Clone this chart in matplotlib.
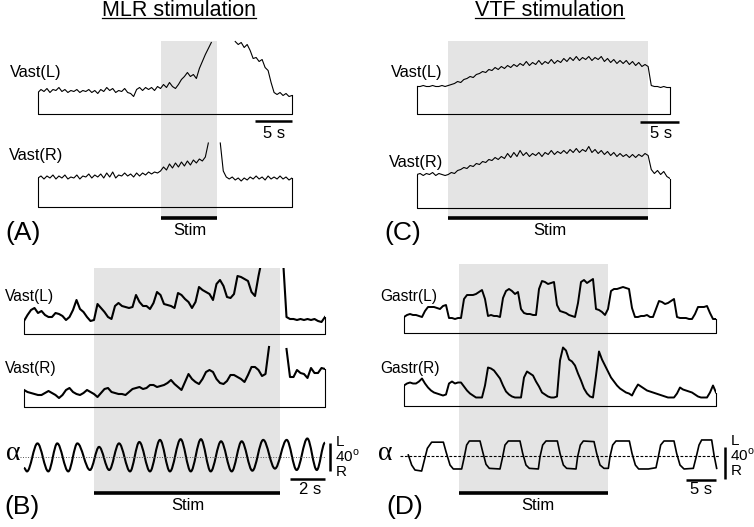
import numpy as np
import matplotlib
matplotlib.use('Agg')
import matplotlib.pyplot as plt
from matplotlib.path import Path
from matplotlib.patches import PathPatch
from matplotlib.lines import Line2D

plt.rcParams['font.family'] = ['Liberation Sans', 'DejaVu Sans']
plt.rcParams['mathtext.fontset'] = 'custom'
plt.rcParams['mathtext.rm'] = 'Liberation Sans'

nan = np.nan

### data ###
# EMG envelopes in a.u., sampled at a fixed step; nan = saturated / off-scale

# (A) MLR stimulation, one sample every 0.4 s
a_dt = 0.4
a_stim = (16.5, 24.0)
a_vast_l = [22, 25, 23, 26, 22, 25, 24, 27, 23, 25,
            22, 24, 23, 25, 22, 24, 23, 25, 22, 24,
            21, 25, 23, 27, 24, 26, 22, 24, 23, 26,
            22, 21, 18, 25, 27, 24, 27, 25, 27, 24,
            28, 26, 30, 27, 32, 28, 26, 30, 35, 38,
            42, 38, 40, 36, 46, 53, 60, 66, 72,
            nan, nan, nan, nan, nan, nan, nan,
            73, 70, 72, 67, 70, 64, 56, 57, 53, 55,
            47, 44, 32, 22, 20, 22, 19, 21, 18, 19]
a_vast_r = [29, 31, 28, 31, 29, 32, 28, 31, 29, 32,
            28, 30, 29, 32, 28, 31, 30, 33, 29, 32,
            30, 33, 29, 34, 30, 35, 29, 32, 31, 34,
            31, 33, 30, 34, 31, 34, 32, 35, 33, 35,
            34, 36, 40, 37, 43, 39, 44, 40, 45, 41,
            46, 42, 47, 44, 48, 46, 50, 64,
            nan, nan, nan,
            64, 36, 30, 28, 30, 27, 29, 26, 29,
            27, 30, 28, 31, 28, 30, 27, 31, 28, 30,
            28, 31, 28, 30, 27, 29]

# (C) VTF stimulation, one sample every 0.4 s
c_dt = 0.4
c_stim = (4.0, 29.6)
c_vast_l = [28, 28, 29, 28, 28, 29, 28, 28, 29, 28,
            29, 30, 31, 33, 32, 35, 36, 38, 37, 40,
            41, 43, 42, 45, 44, 47, 45, 48, 46, 49,
            47, 50, 48, 51, 49, 53, 49, 52, 50, 54,
            50, 53, 51, 55, 51, 54, 52, 56, 53, 57,
            54, 58, 54, 57, 55, 58, 54, 57, 55, 58,
            53, 56, 52, 55, 51, 54, 51, 54, 50, 53,
            49, 52, 48, 50, 48, 29, 28, 28, 27, 28,
            27, 27]
c_vast_r = [33, 34, 32, 34, 33, 35, 32, 34, 33, 32,
            33, 35, 34, 37, 38, 40, 39, 42, 41, 44,
            43, 46, 45, 48, 47, 50, 48, 51, 49, 54,
            50, 55, 51, 57, 52, 55, 51, 54, 52, 55,
            51, 55, 53, 57, 53, 56, 54, 57, 54, 58,
            55, 59, 55, 58, 56, 61, 55, 58, 54, 57,
            53, 56, 52, 55, 51, 54, 51, 53, 50, 53,
            50, 53, 51, 54, 52, 38, 34, 37, 33, 36,
            31, 29]

# (B) MLR stimulation, fast sweep, one sample every 0.2 s
b_dt = 0.2
b_stim = (4.0, 14.6)
b_vast_l = [13, 19, 24, 26, 21, 23, 19, 17, 17, 21,
            20, 18, 14, 17, 24, 34, 25, 22, 17, 13,
            14, 30, 26, 22, 17, 15, 28, 31, 28, 27,
            26, 27, 39, 32, 28, 28, 25, 31, 42, 39,
            30, 29, 28, 26, 41, 39, 35, 32, 26, 32,
            47, 44, 42, 40, 34, 50, 54, 48, 37, 36,
            40, 58, 57, 55, 53, 42, 38, 58, 75,
            nan, nan, nan, nan, nan,
            75, 17, 15, 15, 14, 15, 14, 15, 14, 15, 13, 12, 17]
b_vast_r = [17, 15, 14, 13, 12, 12, 14, 16, 14, 12,
            9, 12, 17, 19, 15, 13, 12, 14, 17, 15,
            13, 10, 14, 18, 19, 15, 14, 13, 13, 12,
            15, 18, 19, 20, 18, 19, 22, 22, 20, 21,
            22, 24, 27, 23, 20, 17, 25, 33, 28, 25,
            23, 28, 35, 37, 35, 28, 24, 23, 26, 32,
            32, 30, 28, 25, 32, 40, 40, 37, 31, 33, 60,
            nan, nan, nan, nan,
            58, 30, 30, 37, 34, 33, 29, 39, 34, 34, 39, 38]
# hip angle alpha (deg): turning points of the oscillation
alpha_b_t = [0.00, 0.17, 0.77, 1.39, 1.90, 2.53, 3.05, 3.77, 4.29, 4.87,
             5.43, 6.06, 6.59, 7.20, 7.77, 8.34, 8.95, 9.53, 10.11, 10.67,
             11.26, 11.87, 12.44, 13.05, 13.67, 14.34, 15.01, 15.58, 16.19, 16.73,
             17.20]
alpha_b_deg = [-16, -21, 19, -21, 19, -21, 19, -19, 14, -19,
               19, -21, 21, -21, 24, -21, 25, -21, 25, -21,
               22, -21, 22, -20, 24, -17, 24, -19, 26, -19,
               20]

# (D) VTF stimulation, one sample every 0.5 s
d_dt = 0.5
d_stim = (9.2, 34.0)
d_gastr_l = [16, 18, 19, 18, 18, 17, 16, 22, 26, 26,
             26, 25, 24, 27, 28, 15, 15, 14, 15, 15,
             34, 38, 38, 38, 39, 41, 43, 34, 17, 18,
             17, 17, 16, 35, 42, 44, 42, 39, 41, 24,
             20, 19, 19, 18, 18, 44, 52, 51, 49, 50,
             51, 28, 22, 21, 20, 18, 17, 16, 30, 51,
             53, 50, 52, 54, 24, 23, 21, 18, 24, 42,
             44, 44, 45, 46, 45, 44, 25, 16, 16, 17,
             17, 18, 16, 16, 24, 32, 31, 29, 30, 32,
             34, 16, 15, 15, 15, 14, 14, 19, 26, 26,
             26, 27, 20, 14, 14]
d_gastr_r = [20, 22, 23, 22, 22, 24, 27, 22, 18, 15,
             13, 12, 11, 10, 11, 22, 24, 22, 23, 23,
             19, 15, 12, 10, 8, 8, 8, 20, 38, 37,
             35, 31, 27, 20, 14, 11, 9, 8, 8, 8,
             28, 34, 32, 30, 24, 19, 13, 11, 9, 8,
             8, 9, 45, 58, 55, 46, 44, 40, 32, 25,
             17, 12, 9, 8, 30, 54, 46, 40, 34, 28,
             24, 20, 17, 15, 13, 12, 10, 16, 21, 19,
             17, 15, 14, 13, 12, 11, 10, 9, 8, 8,
             8, 12, 18, 16, 15, 14, 13, 11, 9, 8,
             8, 8, 13, 20, 13]
alpha_d_t = [0.72, 1.28, 1.83, 2.94,
             3.33, 3.89, 4.61, 6.56, 7.00, 7.67, 8.22, 9.61,
             10.00, 10.44, 10.89, 12.67, 13.11, 13.67, 14.22, 16.00,
             16.39, 16.83, 17.39, 19.33, 19.78, 20.33, 20.89, 22.39,
             22.67, 23.11, 23.67, 25.56, 26.00, 26.56, 27.11, 28.67,
             28.94, 29.39, 29.89, 31.67, 32.11, 32.67, 33.33, 34.06,
             34.33, 34.78, 35.33, 37.56, 38.00, 38.56, 39.11, 40.72, 42.00,
             42.39, 42.78, 43.33, 45.00, 45.44, 46.00, 46.67, 48.22,
             48.78, 49.17, 49.61, 51.28, 51.67, 52.11]
alpha_d_deg = [0.9, -11.8, -18.1, -19.4,
               -7.6, 9.3, 17.1, 17.1, 5.1, -11.8, -16.8, -16.8,
               -3.3, 13.5, 18.6, 18.6, 5.1, -10.9, -16.0, -16.8,
               -3.3, 13.5, 18.6, 18.6, 3.0, -11.8, -16.0, -16.8,
               -1.2, 13.5, 18.6, 18.6, 3.0, -11.8, -16.0, -16.8,
               -1.2, 13.5, 18.6, 17.8, 3.0, -11.8, -16.0, -16.0,
               -1.2, 13.5, 18.6, 18.6, 3.0, -11.8, -16.8, -16.8, -15.2,
               -1.2, 13.5, 18.6, 18.6, 3.0, -11.8, -16.8, -16.0,
               0.9, 13.5, 19.9, 19.9, 0.9, -16.0]


### drawing ###
W, H = 754, 527
fig = plt.figure(figsize=(W / 100, H / 100), dpi=100)
SHADE = '#e4e4e4'


def axes_px(x0, x1, ytop, ybot):
    # axes placed by pixel box (y measured from the top)
    ax = fig.add_axes([x0 / W, 1 - ybot / H, (x1 - x0) / W, (ybot - ytop) / H])
    ax.set_axis_off()
    return ax


def text_px(x, y, s, size=12, ha='left', va='center', **kw):
    return fig.text(x / W, 1 - y / H, s, size=size, ha=ha, va=va, **kw)


def panel(x0, x1, t_end, ytop, ybar, stim):
    ax = axes_px(x0, x1, ytop, ybar)
    ax.set_xlim(0, t_end)
    ax.set_ylim(0, 1)
    ax.axvspan(stim[0], stim[1], color=SHADE, lw=0)
    ax.plot(stim, [0, 0], color='k', lw=2.6, solid_capstyle='butt', clip_on=False)
    return ax


def trace(x0, x1, base, top, dt, vals, lw):
    v = np.array(vals, dtype=float)
    t = np.arange(len(v)) * dt
    ax = axes_px(x0, x1, base - top, base + 3)
    ax.set_xlim(0, t[-1])
    ax.set_ylim(-3, top)
    ax.plot(t, v, color='k', lw=lw, solid_joinstyle='round')
    ax.plot([0, 0, t[-1], t[-1]], [v[0], 0, 0, v[-1]], color='k', lw=0.8,
            clip_on=False)
    return ax, t[-1]


def smooth_path(t, v, k=0.35):
    verts = [(t[0], v[0])]
    codes = [Path.MOVETO]
    for i in range(1, len(t)):
        step = t[i] - t[i - 1]
        verts += [(t[i - 1] + k * step, v[i - 1]), (t[i] - k * step, v[i]), (t[i], v[i])]
        codes += [Path.CURVE4] * 3
    return Path(verts, codes)


# --- (A) ---
t_a = (len(a_vast_l) - 1) * a_dt
panel(38, 292, t_a, 41, 218.3, a_stim)
ax, _ = trace(38, 292, 114.5, 75, a_dt, a_vast_l, 0.8)
ax.plot([t_a - 5, t_a], [-6.5, -6.5], color='k', lw=1.8, solid_capstyle='butt', clip_on=False)
trace(38, 292, 207, 68, a_dt, a_vast_r, 0.8)

# --- (C) ---
t_c = (len(c_vast_l) - 1) * c_dt
panel(417, 670, t_c, 41, 218.3, c_stim)
ax, _ = trace(417, 670, 114.5, 70, c_dt, c_vast_l, 0.8)
ax.plot([28.5, 33.5], [-7.5, -7.5], color='k', lw=1.8, solid_capstyle='butt', clip_on=False)
trace(417, 670, 207.5, 70, c_dt, c_vast_r, 0.8)

# --- (B) ---
t_b = (len(b_vast_l) - 1) * b_dt
panel(24, 325, t_b, 267.7, 493, b_stim)
trace(24, 325, 334, 66, b_dt, b_vast_l, 1.5)
trace(24, 325, 407, 62, b_dt, b_vast_r, 1.5)
ax = axes_px(24, 325, 456.7 - 22.4, 456.7 + 22.4)
ax.set_xlim(0, t_b)
ax.set_ylim(-32, 32)
ax.plot([-0.25, t_b], [0, 0], color='#555555', lw=0.7, ls=(0, (1, 1.6)), clip_on=False)
ax.add_patch(PathPatch(smooth_path(alpha_b_t, alpha_b_deg), fill=False, ec='k',
                       lw=1.5, clip_on=False))
ax.plot([17.49, 17.49], [-20, 20], color='k', lw=1.8, solid_capstyle='butt', clip_on=False)
ax.plot([t_b - 2, t_b], [-31.4, -31.4], color='k', lw=1.8, solid_capstyle='butt', clip_on=False)

# --- (D) ---
t_d = (len(d_gastr_l) - 1) * d_dt
panel(404, 716, t_d, 264, 493, d_stim)
trace(404, 716, 333, 60, d_dt, d_gastr_l, 1.4)
trace(404, 716, 405.5, 62, d_dt, d_gastr_r, 1.4)
ax = axes_px(404, 716, 455.7 - 25.3, 455.7 + 25.3)
ax.set_xlim(0, t_d)
ax.set_ylim(-32, 32)
ax.plot([-0.67, t_d + 0.6], [0, 0], color='k', lw=0.8, ls=(0, (2.5, 1.5)), clip_on=False)
ax.plot(alpha_d_t, alpha_d_deg, color='k', lw=1.2, solid_joinstyle='round', clip_on=False)
ax.plot([53.55, 53.55], [-29, 11], color='k', lw=1.8, solid_capstyle='butt', clip_on=False)
ax.plot([t_d - 5, t_d], [-30.8, -30.8], color='k', lw=1.8, solid_capstyle='butt', clip_on=False)

# --- texts ---
titles = [text_px(178.7, 15.5, 'MLR stimulation', size=15.5, ha='center', va='baseline'),
          text_px(549.5, 15.5, 'VTF stimulation', size=15.5, ha='center', va='baseline')]

text_px(10, 72, 'Vast(L)', size=11.8)
text_px(9, 155, 'Vast(R)', size=11.8)
text_px(391, 72, 'Vast(L)', size=11.8)
text_px(389, 162, 'Vast(R)', size=11.8)
text_px(5, 297, 'Vast(L)', size=11.2)
text_px(5, 368, 'Vast(R)', size=11.2)
text_px(380, 297, 'Gastr(L)', size=11.2)
text_px(380, 368, 'Gastr(R)', size=11.2)

for x, y, s in [(5, 233, '(A)'), (384, 233, '(C)'), (4, 507, '(B)'), (386, 507, '(D)')]:
    text_px(x, y, s, size=19)
for x, y in [(190, 230), (550, 230), (188, 505), (538, 506)]:
    text_px(x, y, 'Stim', size=12, ha='center')
for x, y, s in [(274, 133, '5 s'), (661, 133, '5 s'), (310, 490, '2 s'), (701, 490, '5 s')]:
    text_px(x, y, s, size=12, ha='center')

text_px(13, 454, '\u03b1', size=20, ha='center', family='Liberation Serif')
text_px(385, 453, '\u03b1', size=20, ha='center', family='Liberation Serif')

for x, y0 in [(336, 442), (731, 441)]:
    text_px(x, y0, 'L', size=11)
    text_px(x - 1, y0 + 14.5, r'40$^{\rm o}$', size=11)
    text_px(x, y0 + 30, 'R', size=11)

# underline the two titles
fig.canvas.draw()
renderer = fig.canvas.get_renderer()
for t in titles:
    bb = t.get_window_extent(renderer)
    y = 1 - 18.3 / H
    fig.add_artist(Line2D([bb.x0 / W, bb.x1 / W], [y, y], color='k', lw=0.9))

plt.savefig('out.png', dpi=100)
